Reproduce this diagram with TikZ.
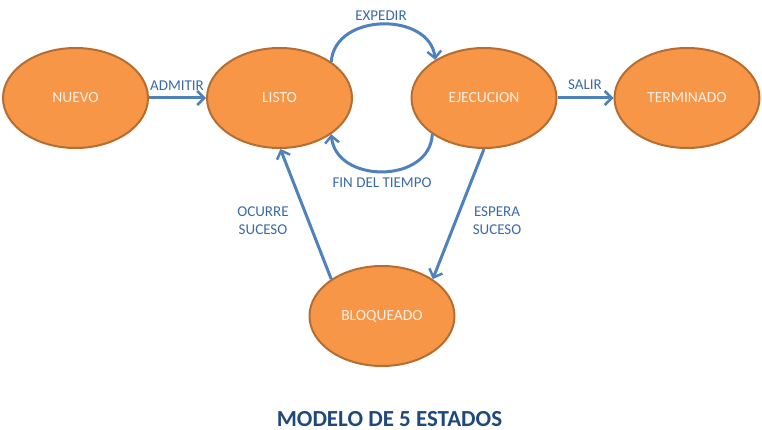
\documentclass[tikz,border=0pt]{standalone}
\usepackage{fontspec}
\setmainfont{Carlito}
\usetikzlibrary{shapes.geometric,arrows.meta}
\definecolor{stfill}{HTML}{F79646}
\definecolor{stdraw}{HTML}{B66D31}
\definecolor{arr}{HTML}{4F81BD}
\definecolor{lbl}{HTML}{3A6AA5}
\definecolor{ttl}{HTML}{1F497D}
\definecolor{sttext}{HTML}{FDF0E6}
\tikzset{
  state/.style={ellipse, draw=stdraw, line width=2pt, fill=stfill, minimum width=145pt, minimum height=100pt, inner sep=0pt, text=sttext, font=\fontsize{15.5}{18}\selectfont},
  conn/.style={draw=arr, line width=3pt, -{Straight Barb[length=7pt,width=14pt,line width=2.5pt]}},
  lab/.style={text=lbl, font=\fontsize{15}{18}\selectfont, align=center, inner sep=0pt}
}
\begin{document}
\begin{tikzpicture}[x=1pt,y=-1pt]
\useasboundingbox (0,0) rectangle (762,430);
\node[state] (nuevo) at (75.5,98) {NUEVO};
\node[state] (listo) at (279.5,98) {LISTO};
\node[state] (ejec) at (484,98) {EJECUCION};
\node[state] (term) at (687,98) {TERMINADO};
\node[state] (bloq) at (382,316) {BLOQUEADO};

\draw[conn] (nuevo.east) -- (listo.west);
\draw[conn] (ejec.east) -- (term.west);
\draw[conn] (listo.35) .. controls (335,12) and (430,12) .. (ejec.142);
\draw[conn] (ejec.215) .. controls (430,184) and (336,184) .. (listo.325);
\draw[conn] (bloq.144) -- (listo.271);
\draw[conn] (ejec.270) -- (bloq.36);

\node[lab] (tadm) at (177,86) {ADMITIR};
\node[lab] (tsal) at (585,85) {SALIR};
\node[lab] (texp) at (381,16) {EXPEDIR};
\node[lab] (tfin) at (382,183) {FIN DEL TIEMPO};
\node[lab] (tocu) at (263,221) {OCURRE\\SUCESO};
\node[lab] (tesp) at (497,221) {ESPERA\\SUCESO};
\node[text=ttl, font=\fontsize{23}{26}\selectfont\bfseries, anchor=base, inner sep=0pt] (title) at (389.5,426.5) {MODELO DE 5 ESTADOS};
\end{tikzpicture}
\end{document}
